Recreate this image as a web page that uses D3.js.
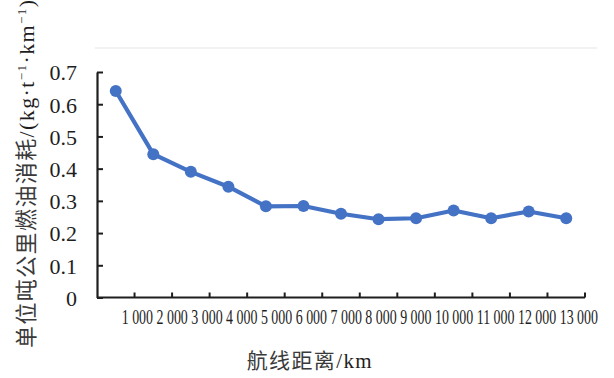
<!DOCTYPE html>
<html>
<head>
<meta charset="utf-8">
<script src="https://cdn.jsdelivr.net/npm/d3@7"></script>
<style>
  body { margin: 0; background: #fff; }
  svg { display: block; }
</style>
</head>
<body>
<svg id="chart" width="614" height="378"></svg>
<script>
// Route distance categories (km)
const categories = ["1 000", "2 000", "3 000", "4 000", "5 000", "6 000", "7 000",
                    "8 000", "9 000", "10 000", "11 000", "12 000", "13 000"];
// Fuel burn per tonne-kilometre, kg·t⁻¹·km⁻¹
const fuelPerTonKm = [0.641, 0.445, 0.390, 0.344, 0.283, 0.284, 0.260,
                      0.243, 0.246, 0.270, 0.246, 0.267, 0.246];
// Value-axis ticks
const yTickValues = [0, 0.1, 0.2, 0.3, 0.4, 0.5, 0.6, 0.7];
const yTickLabels = ["0", "0.1", "0.2", "0.3", "0.4", "0.5", "0.6", "0.7"];

const SERIF = "'Liberation Serif','Times New Roman',serif";
const CJK = "'Noto Sans CJK SC','Noto Sans',sans-serif";
const INK = "#1e1e1e";
const BLUE = "#4472C4";

const svg = d3.select("#chart");
const plot = { left: 97, right: 585, top: 72, bottom: 297.5 };

const x = d3.scaleBand().domain(categories).range([plot.left, plot.right]).padding(0);
const y = d3.scaleLinear().domain([0, 0.7]).range([plot.bottom, plot.top]);

// faint chart-area border line
svg.append("line")
  .attr("x1", 95).attr("x2", 597).attr("y1", 48).attr("y2", 48)
  .attr("stroke", "#eeeeee").attr("stroke-width", 1.6);

// value axis, ticks pointing inward
const yAxis = svg.append("g")
  .attr("transform", `translate(${plot.left},0)`)
  .call(d3.axisLeft(y)
    .tickValues(yTickValues)
    .tickFormat((d, i) => yTickLabels[i])
    .tickSize(-6)
    .tickSizeOuter(0)
    .tickPadding(20));
yAxis.select(".domain").attr("stroke", INK).attr("stroke-width", 2.2);
yAxis.selectAll(".tick line").attr("stroke", INK).attr("stroke-width", 2);
yAxis.selectAll(".tick text")
  .attr("font-family", SERIF).attr("font-size", 22).attr("fill", INK).attr("dy", "0.36em");

// category axis: baseline plus ticks between categories
const xAxis = svg.append("g");
xAxis.append("line")
  .attr("x1", x.range()[0]).attr("x2", x.range()[1])
  .attr("y1", plot.bottom).attr("y2", plot.bottom)
  .attr("stroke", INK).attr("stroke-width", 2.2);
xAxis.selectAll("line.tick")
  .data(categories)
  .join("line")
  .attr("class", "tick")
  .attr("x1", d => x(d) + x.bandwidth()).attr("x2", d => x(d) + x.bandwidth())
  .attr("y1", plot.bottom).attr("y2", plot.bottom - 5)
  .attr("stroke", INK).attr("stroke-width", 2);

// category labels, set as one condensed run of text
const labelBaseline = 323.5, rowStart = 121.7, rowEnd = 598.3, labelSize = 20;
const labels = svg.append("g")
  .attr("font-family", SERIF).attr("font-size", labelSize).attr("fill", INK);
const measure = s => {
  const t = labels.append("text").text(s);
  const w = t.node().getComputedTextLength();
  t.remove();
  return w;
};
const natural = measure(categories.join(" "));
const squeeze = (rowEnd - rowStart) / natural;
const spaceW = measure("0 0") - measure("00");
let cursor = rowStart;
categories.forEach(c => {
  const t = labels.append("text")
    .attr("transform", `translate(${cursor},${labelBaseline}) scale(${squeeze},1)`)
    .text(c);
  cursor += (t.node().getComputedTextLength() + spaceW) * squeeze;
});

// series line and markers
const cx = (d, i) => x(categories[i]) + x.bandwidth() / 2;
svg.append("path")
  .datum(fuelPerTonKm)
  .attr("fill", "none")
  .attr("stroke", BLUE)
  .attr("stroke-width", 4.2)
  .attr("stroke-linejoin", "round")
  .attr("d", d3.line().x(cx).y(d => y(d)));
svg.append("g").selectAll("circle")
  .data(fuelPerTonKm)
  .join("circle")
  .attr("cx", cx).attr("cy", d => y(d)).attr("r", 6)
  .attr("fill", BLUE);

// axis titles
const yTitle = svg.append("text")
  .attr("transform", "translate(33.5,348) rotate(-90)")
  .attr("font-size", 22)
  .attr("textLength", 348).attr("lengthAdjust", "spacing");
yTitle.append("tspan").attr("font-family", CJK).attr("fill", "#3a3a3a").text("单位吨公里燃油消耗");
yTitle.append("tspan").attr("font-family", SERIF).attr("fill", INK).text("/(kg·t");
yTitle.append("tspan").attr("font-family", SERIF).attr("fill", INK).attr("font-size", 13).attr("dy", -8).text("−1");
yTitle.append("tspan").attr("font-family", SERIF).attr("fill", INK).attr("dy", 8).text("·km");
yTitle.append("tspan").attr("font-family", SERIF).attr("fill", INK).attr("font-size", 13).attr("dy", -8).text("−1");
yTitle.append("tspan").attr("font-family", SERIF).attr("fill", INK).attr("dy", 8).text(")");

const xTitle = svg.append("text")
  .attr("x", 246.7).attr("y", 368)
  .attr("font-size", 21)
  .attr("textLength", 125).attr("lengthAdjust", "spacing");
xTitle.append("tspan").attr("font-family", CJK).attr("fill", "#3a3a3a").text("航线距离");
xTitle.append("tspan").attr("font-family", SERIF).attr("fill", INK).text("/km");
</script>
</body>
</html>
